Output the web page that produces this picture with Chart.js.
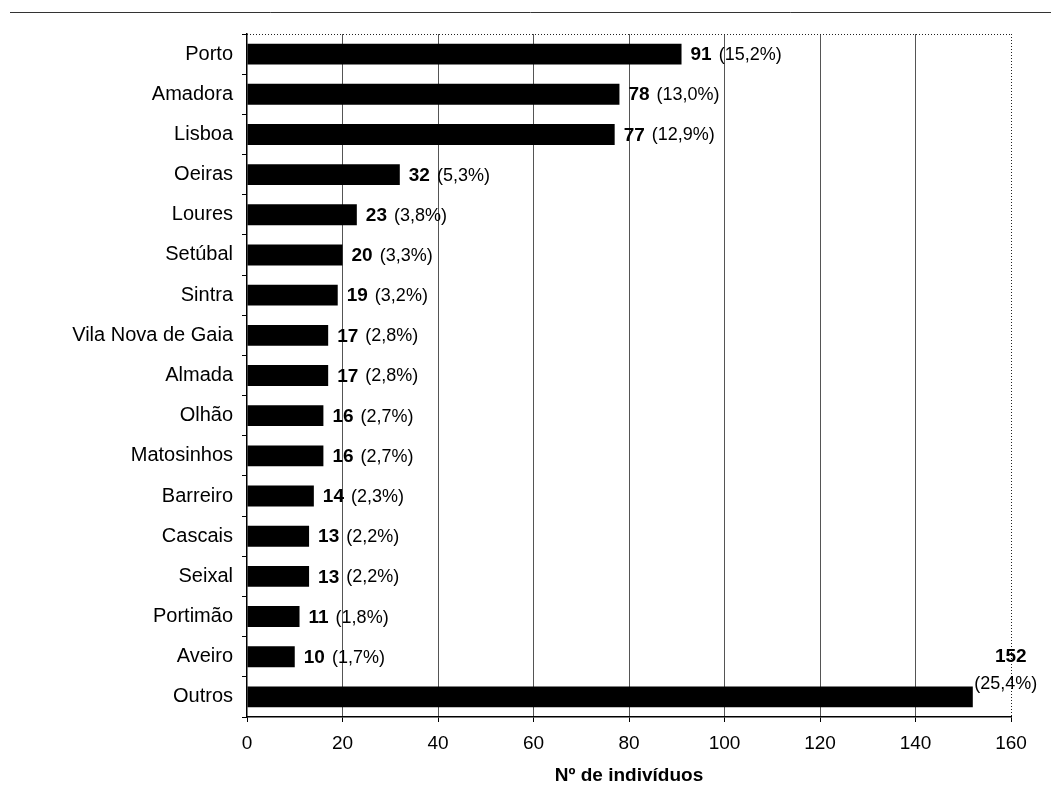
<!DOCTYPE html>
<html>
<head>
<meta charset="utf-8">
<script src="https://cdn.jsdelivr.net/npm/chart.js@4/dist/chart.umd.min.js"></script>
<style>
  html, body { margin: 0; padding: 0; background: #fff; }
  #wrap { width: 1051px; height: 790px; }
</style>
</head>
<body>
<div id="wrap"><canvas id="chart"></canvas></div>
<script>
// Municipalities (categories), counts and shares
const municipios = ['Porto', 'Amadora', 'Lisboa', 'Oeiras', 'Loures', 'Setúbal', 'Sintra',
  'Vila Nova de Gaia', 'Almada', 'Olhão', 'Matosinhos', 'Barreiro', 'Cascais', 'Seixal',
  'Portimão', 'Aveiro', 'Outros'];
const individuos = [91, 78, 77, 32, 23, 20, 19, 17, 17, 16, 16, 14, 13, 13, 11, 10, 152];
const percentagens = [15.2, 13.0, 12.9, 5.3, 3.8, 3.3, 3.2, 2.8, 2.8, 2.7, 2.7, 2.3, 2.2, 2.2, 1.8, 1.7, 25.4];
const xTicks = [0, 20, 40, 60, 80, 100, 120, 140, 160];
const xTitle = 'Nº de indivíduos';

const FONT = "'Liberation Sans', sans-serif";

function pctText(p) {
  return '(' + p.toFixed(1).replace('.', ',') + '%)';
}

// value + percentage next to each bar, last one stacked above the bar end
const barLabels = {
  id: 'barLabels',
  afterDatasetsDraw(chart) {
    const ctx = chart.ctx;
    const meta = chart.getDatasetMeta(0);
    ctx.save();
    ctx.fillStyle = '#000';
    meta.data.forEach((bar, i) => {
      const v = String(individuos[i]);
      const p = pctText(percentagens[i]);
      if (i === individuos.length - 1) {
        ctx.textAlign = 'center';
        ctx.textBaseline = 'middle';
        ctx.font = 'bold 19px ' + FONT;
        ctx.fillText(v, bar.x + 38, bar.y - 40);
        ctx.font = '18px ' + FONT;
        ctx.fillText(p, bar.x + 33, bar.y - 13);
        return;
      }
      ctx.textAlign = 'left';
      ctx.textBaseline = 'middle';
      ctx.font = 'bold 19px ' + FONT;
      const x0 = bar.x + 9;
      ctx.fillText(v, x0, bar.y + 1);
      const w = ctx.measureText(v).width;
      ctx.font = '18px ' + FONT;
      ctx.fillText(p, x0 + w + 7, bar.y + 1);
    });
    ctx.restore();
  }
};

// dotted top/right frame and the stray rule along the top of the scan
const frame = {
  id: 'frame',
  beforeDatasetsDraw(chart) {
    const { ctx, chartArea: a } = chart;
    ctx.save();
    ctx.strokeStyle = '#222';
    ctx.lineWidth = 1;
    ctx.setLineDash([1, 2]);
    ctx.beginPath();
    ctx.moveTo(a.left, a.top + 0.5);
    ctx.lineTo(a.right, a.top + 0.5);
    ctx.moveTo(a.right + 0.5, a.top);
    ctx.lineTo(a.right + 0.5, a.bottom);
    ctx.stroke();
    ctx.setLineDash([]);
    ctx.strokeStyle = '#333';
    ctx.beginPath();
    ctx.moveTo(10, 12.5);
    ctx.lineTo(chart.width, 12.5);
    ctx.stroke();
    ctx.restore();
  }
};

new Chart(document.getElementById('chart'), {
  type: 'bar',
  data: {
    labels: municipios,
    datasets: [{
      data: individuos,
      backgroundColor: '#000',
      borderWidth: 0,
      barPercentage: 0.52,
      categoryPercentage: 1.0
    }]
  },
  options: {
    indexAxis: 'y',
    responsive: true,
    maintainAspectRatio: false,
    animation: false,
    layout: { padding: { top: 34, right: 40, left: 0, bottom: 0 } },
    plugins: {
      legend: { display: false },
      tooltip: { enabled: false }
    },
    scales: {
      x: {
        min: 0,
        max: 160,
        afterBuildTicks: (scale) => { scale.ticks = xTicks.map(v => ({ value: v })); },
        afterFit: (scale) => { scale.height = 73; },
        border: { display: true, color: '#000', width: 1.5 },
        grid: {
          color: (c) => (c.tick && (c.tick.value === 0 || c.tick.value === 160)) ? 'rgba(0,0,0,0)' : '#555',
          lineWidth: 1,
          drawTicks: true,
          tickLength: 5,
          tickColor: '#000'
        },
        ticks: {
          color: '#000',
          padding: 10,
          font: { family: FONT, size: 19 }
        },
        title: {
          display: true,
          text: xTitle,
          color: '#000',
          padding: { top: 0, bottom: 3 },
          font: { family: FONT, size: 19, weight: 'bold' }
        }
      },
      y: {
        afterFit: (scale) => { scale.width = 247; },
        border: { display: true, color: '#000', width: 1.5 },
        grid: {
          offset: true,
          drawOnChartArea: false,
          drawTicks: true,
          tickLength: 5,
          tickColor: '#000'
        },
        ticks: {
          color: '#000',
          padding: 9,
          autoSkip: false,
          font: { family: FONT, size: 20 }
        }
      }
    }
  },
  plugins: [frame, barLabels]
});
</script>
</body>
</html>
